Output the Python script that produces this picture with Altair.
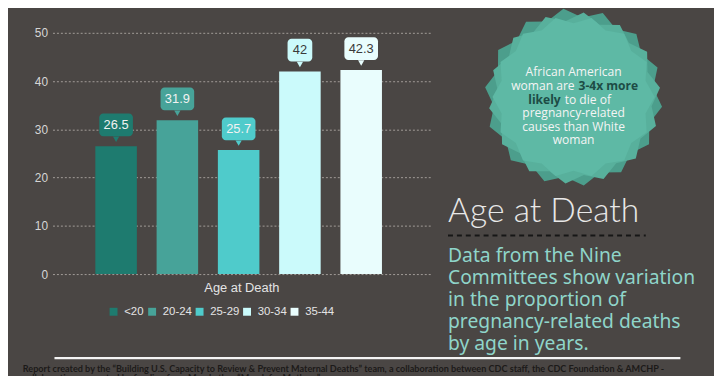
import math
import altair as alt
import pandas as pd

# ---------------- data ----------------
ages = ["<20", "20-24", "25-29", "30-34", "35-44"]
values = [26.5, 31.9, 25.7, 42, 42.3]
labels = ["26.5", "31.9", "25.7", "42", "42.3"]
palette = ["#1e7b6f", "#47a399", "#4fcbcb", "#cbfafb", "#e9fdfd"]
dark_label_ages = ["30-34", "35-44"]

y_ticks = [0, 10, 20, 30, 40, 50]

title_text = "Age at Death"
axis_title = "Age at Death"
burst_lines = ["African American", "woman are", "3-4x more", "likely", "to die of",
               "pregnancy-related", "causes than White", "woman"]
paragraph = ["Data from the Nine", "Committees show variation", "in the proportion of",
             "pregnancy-related deaths", "by age in years."]
footer = [
    "Report created by the \u201cBuilding U.S. Capacity to Review & Prevent Maternal Deaths\u201d team, a collaboration between CDC staff, the CDC Foundation & AMCHP -",
    "collaboration supported by funding from Merck, thru \u201cMerck for Mothers\u201d program.",
]

df = pd.DataFrame({"age": ages, "value": values, "label": labels})
one = pd.DataFrame({"k": [0]})

BG = "#4a4644"
W, H = 382, 244
PL, PT = 45, 23

xscale = alt.Scale(paddingInner=0.3115, paddingOuter=0.738, align=0.47)
xenc = alt.X("age:N", sort=ages, scale=xscale,
             axis=alt.Axis(labels=False, ticks=False, domain=False,
                           title=axis_title, titlePadding=8,
                           titleColor="#e4e4e4", titleFontSize=13,
                           titleFont="Liberation Sans", titleFontWeight="normal"))
xsub = alt.X("age:N", sort=ages, scale=xscale)
yenc = alt.Y("value:Q", scale=alt.Scale(domain=[0, 50], nice=False),
             axis=alt.Axis(values=y_ticks, title=None, domain=False, ticks=False,
                           labelPadding=5, labelColor="#d6d6d6", labelFontSize=12,
                           labelFont="Liberation Sans", grid=True, gridColor="#a39d99",
                           gridDash=[2, 2], gridWidth=1))
color = alt.Color("age:N", sort=ages, scale=alt.Scale(domain=ages, range=palette),
                  legend=alt.Legend(title=None, orient="none", legendX=56, legendY=276,
                                    direction="horizontal", columns=5, symbolType="square",
                                    symbolSize=64, symbolStrokeWidth=0, labelColor="#e4e4e4",
                                    labelFontSize=11.5, labelFont="Liberation Sans",
                                    labelOffset=5, columnPadding=2, symbolOpacity=1))

base = alt.Chart(df)
bars = base.mark_bar(width=42, opacity=1).encode(x=xenc, y=yenc, color=color)

wide = base.transform_filter("length(datum.label) > 2").mark_bar(
    width=34, cornerRadius=4, yOffset=-33, y2Offset=-10).encode(
    x=xsub, y="value:Q", y2="value:Q", color=color)
narrow = base.transform_filter("length(datum.label) <= 2").mark_bar(
    width=25, cornerRadius=4, yOffset=-33, y2Offset=-10).encode(
    x=xsub, y="value:Q", y2="value:Q", color=color)
pointer = base.mark_point(shape="triangle-down", filled=True, size=40, opacity=1,
                          yOffset=-7).encode(x=xsub, y="value:Q", color=color)
lbl = base.mark_text(yOffset=-21.5, fontSize=13, font="Liberation Sans", baseline="middle").encode(
    x=xsub, y="value:Q", text="label:N",
    color=alt.condition(alt.FieldOneOfPredicate(field="age", oneOf=dark_label_ages),
                        alt.value("#3a3a3a"), alt.value("#f2f2f2")))


def star_path(points, inner, rot):
    pts = []
    for i in range(points * 2):
        r = 1.0 if i % 2 == 0 else inner
        a = rot + math.pi * i / points
        pts.append(f"{r * math.cos(a):.4f},{r * math.sin(a):.4f}")
    return "M" + "L".join(pts) + "Z"


def shape(path, x, y, size, fill):
    return alt.Chart(one).mark_point(shape=path, filled=True, size=size, opacity=1,
                                     fill=fill, strokeWidth=0).encode(
        x=alt.value(x), y=alt.value(y))


def txt(s, x, y, **kw):
    style = dict(font="Open Sans", fontSize=12.2, color="#f4f4f4", baseline="middle", align="center")
    style.update(kw)
    return alt.Chart(one).mark_text(text=s, **style).encode(x=alt.value(x), y=alt.value(y))


cx, cy = 527, 65
burst = [
    shape(star_path(14, 0.9, 0.11), cx, cy, 180 ** 2, "#4c9e8c"),
    shape(star_path(14, 0.9, 0.33), cx + 1, cy + 1, 174 ** 2, "#58b09c"),
    shape(star_path(14, 0.91, 0.0), cx, cy, 164 ** 2, "#5eb9a5"),
]
dark_teal = "#1d4c45"
btxt = [
    txt(burst_lines[0], cx, 40),
    txt(burst_lines[1], cx + 1, 54, align="right"),
    txt(burst_lines[2], cx + 5, 54, align="left", color=dark_teal, fontWeight="bold"),
    txt(burst_lines[3], cx - 13, 68, align="right", color=dark_teal, fontWeight="bold"),
    txt(burst_lines[4], cx - 9, 68, align="left"),
    txt(burst_lines[5], cx, 81),
    txt(burst_lines[6], cx, 95),
    txt(burst_lines[7], cx, 108),
]

big_title = txt(title_text, 400, 191, align="left", baseline="alphabetic", font="Lato",
                fontWeight=300, fontSize=34, color="#e8e8e8")
dash = alt.Chart(one).mark_rule(color="#161616", strokeDash=[5, 4], strokeWidth=2).encode(
    x=alt.value(400), x2=alt.value(600), y=alt.value(205))
para = alt.Chart(one).mark_text(text=paragraph, align="left", baseline="middle",
                                font="Noto Sans", fontSize=19.5, color="#8fd5ca",
                                lineHeight=22.3).encode(x=alt.value(400), y=alt.value(226))
wline = alt.Chart(one).mark_rule(color="#f4f4f4", strokeWidth=2.5).encode(
    x=alt.value(2), x2=alt.value(635), y=alt.value(329))
foot1 = txt(footer[0], -30, 340, align="left", font="Lato", fontWeight="bold",
            fontSize=9.2, color="#1c1a19")
foot2 = txt(footer[1], -30, 349, align="left", font="Lato", fontWeight="bold",
            fontSize=9.2, color="#1c1a19")

chart = alt.layer(
    bars, wide, narrow, pointer, lbl, *burst, *btxt, big_title, dash, para, wline, foot1, foot2
).properties(
    width=W, height=H,
    autosize=alt.AutoSizeParams(type="none"),
    padding={"left": PL, "top": PT, "right": 714 - PL - W, "bottom": 368 - PT - H},
).configure(background=BG).configure_view(stroke=None)

chart.save("out.html", embed_options={"renderer": "svg", "actions": False})
